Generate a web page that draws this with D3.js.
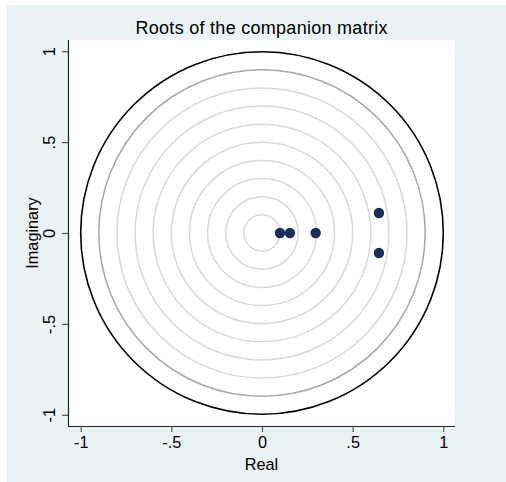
<!DOCTYPE html>
<html>
<head>
<meta charset="utf-8">
<script src="https://cdn.jsdelivr.net/npm/d3@7"></script>
<style>
  body { margin: 0; background: #fff; }
  text { font-family: "Liberation Sans", Arial, sans-serif; fill: #000; }
</style>
</head>
<body>
<div id="Chart"></div>
<script>
// roots of the companion matrix
const rootReal = [0.099, 0.154, 0.296, 0.645, 0.645];
const rootImag = [0, 0, 0, 0.11, -0.11];

// reference circles
const ringRadius = [0.1, 0.2, 0.3, 0.4, 0.5, 0.6, 0.7, 0.8, 0.9, 1];
const ringShade  = ["light", "light", "light", "light", "light", "light", "light", "light", "mid", "unit"];

const tickValues = [-1, -0.5, 0, 0.5, 1];
const tickLabels = ["-1", "-.5", "0", ".5", "1"];

const title  = "Roots of the companion matrix";
const xTitle = "Real";
const yTitle = "Imaginary";

drawChart("Chart");

function drawChart(elId) {
  const dims = {
    width:  506,
    height: 482,
    left:    68,
    right:  455,
    top:     40,
    bottom: 426
  };
  const ringColor = { light: "#d9d9d9", mid: "#a8a8a8", unit: "#000" };

  const svg = d3.select("#" + elId)
    .append("svg")
      .attr("width", dims.width)
      .attr("height", dims.height)
      .attr("xmlns", "http://www.w3.org/2000/svg");

  // stata-ish outer background and white plot region
  svg.append("rect")
    .attr("x", 6).attr("y", 5)
    .attr("width", dims.width - 6).attr("height", dims.height - 5)
    .attr("fill", "#eaf2f3");
  svg.append("rect")
    .attr("x", dims.left).attr("y", dims.top)
    .attr("width", dims.right - dims.left).attr("height", dims.bottom - dims.top)
    .attr("fill", "#fff");

  const xScale = d3.scaleLinear([-1, 1], [80.7, 443.3]);
  const yScale = d3.scaleLinear([-1, 1], [414.8, 51.2]);
  const unit = xScale(1) - xScale(0);

  const ringG = svg.append("g").attr("class", "rings");
  ringG.selectAll("circle")
    .data(ringRadius.map((r, i) => ({ r, shade: ringShade[i] })))
    .join("circle")
      .attr("cx", xScale(0))
      .attr("cy", yScale(0))
      .attr("r", d => d.r * unit)
      .attr("fill", "none")
      .attr("stroke", d => ringColor[d.shade])
      .attr("stroke-width", d => d.shade === "unit" ? 1.6 : 1.5);

  const roots = rootReal.map((re, i) => ({ re, im: rootImag[i] }));
  svg.append("g").attr("class", "roots")
    .selectAll("circle")
    .data(roots)
    .join("circle")
      .attr("cx", d => xScale(d.re))
      .attr("cy", d => yScale(d.im))
      .attr("r", 5.2)
      .attr("fill", "#1b2d5a");

  // axes
  const xAxis = d3.axisBottom(xScale)
    .tickValues(tickValues)
    .tickFormat((d, i) => tickLabels[i])
    .tickSize(6).tickPadding(4).tickSizeOuter(0);
  const xg = svg.append("g")
    .attr("transform", `translate(0 ${dims.bottom})`)
    .call(xAxis);
  xg.select(".domain").attr("d", `M${dims.left},0.5H${dims.right}`);

  const yAxis = d3.axisLeft(yScale)
    .tickValues(tickValues)
    .tickFormat((d, i) => tickLabels[i])
    .tickSize(6).tickSizeOuter(0);
  const yg = svg.append("g")
    .attr("transform", `translate(${dims.left} 0)`)
    .call(yAxis);
  yg.select(".domain").attr("d", `M0.5,${dims.top}V${dims.bottom}`);
  yg.selectAll(".tick text")
    .attr("x", null).attr("dy", null)
    .attr("text-anchor", "middle")
    .attr("transform", "translate(-13 0) rotate(-90)");

  [xg, yg].forEach(g => {
    g.selectAll(".domain").attr("stroke", "#222").attr("stroke-width", 1.2);
    g.selectAll(".tick line").attr("stroke", "#555").attr("stroke-width", 1.2);
    g.selectAll(".tick text")
      .attr("font-family", '"Liberation Sans", Arial, sans-serif')
      .attr("font-size", 16.3)
      .attr("fill", "#000");
  });

  // titles
  const midX = (dims.left + dims.right) / 2;
  const midY = (dims.top + dims.bottom) / 2;
  svg.append("text")
    .attr("x", midX).attr("y", 33.5)
    .attr("text-anchor", "middle")
    .attr("font-size", 18)
    .attr("textLength", 252).attr("lengthAdjust", "spacing")
    .text(title);
  svg.append("text")
    .attr("x", midX).attr("y", 470)
    .attr("text-anchor", "middle")
    .attr("font-size", 16.3)
    .text(xTitle);
  svg.append("text")
    .attr("transform", `translate(37.5 ${midY}) rotate(-90)`)
    .attr("text-anchor", "middle")
    .attr("font-size", 16.3)
    .text(yTitle);
}
</script>
</body>
</html>
